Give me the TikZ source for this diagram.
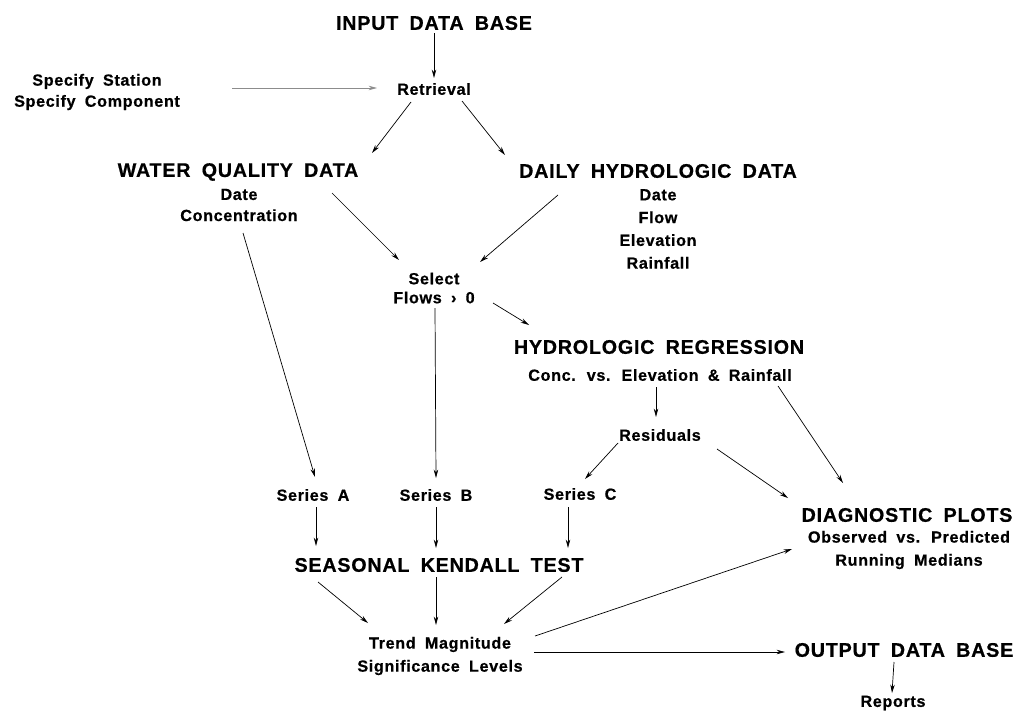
\documentclass[tikz,border=0pt]{standalone}
\usepackage{fontspec}
\setmainfont{Liberation Sans}[WordSpace=1.8,LetterSpace=4,BoldFeatures={FakeBold=0.6}]
\usetikzlibrary{arrows.meta,calc}

\tikzset{
  headtxt/.style={font=\fontsize{14}{16}\selectfont\bfseries, inner sep=1pt},
  subtxt/.style={font=\fontsize{11.5}{15}\selectfont\bfseries, align=center, inner sep=1pt},
  flow/.style={-{Stealth[length=6pt,width=3.2pt]}, line width=0.5pt},
}

\begin{document}
\begin{tikzpicture}[x=0.025cm,y=-0.025cm]
    \useasboundingbox (0,0) rectangle (1018,710);
    % upper part
    \node[headtxt] (inp) at (434,23) {INPUT DATA BASE};
    \node[subtxt] (ret) at (434,89) {Retrieval};
    \node[subtxt] (spec) at (97,92) {Specify Station\\Specify Component};
    \node[headtxt] (wqd) at (238,172) {WATER QUALITY DATA};
    \node[subtxt] (wqdsub) at (239,205) {Date\\Concentration};
    \node[headtxt] (dhd) at (658,171) {DAILY HYDROLOGIC DATA};
    \node[subtxt, font=\fontsize{11.5}{16.2}\selectfont\bfseries] (dhdsub) at (658,229) {Date\\Flow\\Elevation\\Rainfall};
    \node[subtxt, font=\fontsize{11.5}{13.5}\selectfont\bfseries] (sel) at (434,288) {Select\\Flows › 0};
    \node[headtxt] (hr) at (659,347) {HYDROLOGIC REGRESSION};
    \node[subtxt] (hrsub) at (660,375) {Conc. vs. Elevation \& Rainfall};
    \node[subtxt] (res) at (660,435) {Residuals};
    % lower part
    \node[subtxt] (sa) at (313,495) {Series A};
    \node[subtxt] (sb) at (436,495) {Series B};
    \node[subtxt] (sc) at (580,494) {Series C};
    \node[headtxt] (skt) at (439,565) {SEASONAL KENDALL TEST};
    \node[subtxt, font=\fontsize{11.5}{16.4}\selectfont\bfseries] (trend) at (440,656) {Trend Magnitude\\Significance Levels};
    \node[headtxt] (diag) at (907,515) {DIAGNOSTIC PLOTS};
    \node[subtxt, font=\fontsize{11.5}{16.4}\selectfont\bfseries] (diagsub) at (909,550) {Observed vs. Predicted\\Running Medians};
    \node[headtxt] (out) at (904,650) {OUTPUT DATA BASE};
    \node[subtxt] (rep) at (893,703) {Reports};

    % arrows
    \draw[flow] ($(inp)+(0,10)$) -- ($(ret)+(0,-11)$);
    \draw[flow, black!45] ($(spec)+(135,-4)$) -- ($(ret)+(-57,-1)$);
    \draw[flow] ($(ret)+(-23,13)$) -- ($(wqd)+(134,-19)$);
    \draw[flow] ($(ret)+(28,12)$) -- ($(dhd)+(-153,-16)$);
    \draw[flow] ($(wqdsub)+(93,-12)$) -- ($(sel)+(-35,-28)$);
    \draw[flow] ($(dhdsub)+(-100,-34)$) -- ($(sel)+(46,-26)$);
    \draw[flow] ($(wqdsub)+(4,28)$) -- ($(sa)+(2,-18)$);
    \draw[flow] ($(sel)+(1,20)$) -- ($(sb)+(0,-17)$);
    \draw[flow] ($(sel)+(59,15)$) -- ($(hr)+(-130,-22)$);
    \draw[flow] ($(hrsub)+(-4,12)$) -- ($(res)+(-4,-18)$);
    \draw[flow] ($(hrsub)+(118,11)$) -- ($(diag)+(-64,-32)$);
    \draw[flow] ($(res)+(-42,8)$) -- ($(sc)+(5,-15)$);
    \draw[flow] ($(res)+(57,14)$) -- ($(diag)+(-119,-17)$);
    \draw[flow] ($(sa)+(3,12)$) -- ($(skt)+(-123,-19)$);
    \draw[flow] ($(sb)+(0,12)$) -- ($(skt)+(-3,-17)$);
    \draw[flow] ($(sc)+(-12,13)$) -- ($(skt)+(129,-17)$);
    \draw[flow] ($(skt)+(-121,17)$) -- ($(trend)+(-72,-33)$);
    \draw[flow] ($(skt)+(-3,12)$) -- ($(trend)+(-4,-31)$);
    \draw[flow] ($(skt)+(123,12)$) -- ($(trend)+(64,-32)$);
    \draw[flow] ($(trend)+(95,-20)$) -- ($(diag)+(-115,34)$);
    \draw[flow] ($(trend)+(94,-4)$) -- ($(out)+(-119,2)$);
    \draw[flow] ($(out)+(-10,12)$) -- ($(rep)+(-1,-10)$);
\end{tikzpicture}
\end{document}
